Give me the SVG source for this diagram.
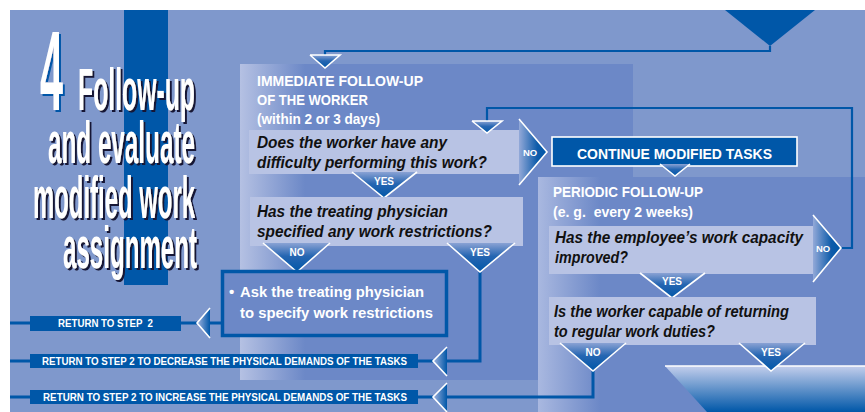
<svg xmlns="http://www.w3.org/2000/svg" width="865" height="412" viewBox="0 0 865 412">
<defs>
  <linearGradient id="p1" gradientUnits="userSpaceOnUse" x1="240" y1="0" x2="305" y2="0">
    <stop offset="0" stop-color="#B5C1E3"/><stop offset="1" stop-color="#6C88C7"/>
  </linearGradient>
  <linearGradient id="p2" gradientUnits="userSpaceOnUse" x1="538" y1="0" x2="600" y2="0">
    <stop offset="0" stop-color="#A9B8E0"/><stop offset="1" stop-color="#6C88C7"/>
  </linearGradient>
  <linearGradient id="gDown" x1="0" y1="0" x2="0" y2="1">
    <stop offset="0" stop-color="#8AA2D4"/><stop offset="0.45" stop-color="#2666B2"/><stop offset="1" stop-color="#0057A8"/>
  </linearGradient>
  <linearGradient id="gRight" x1="0" y1="0" x2="1" y2="0">
    <stop offset="0" stop-color="#93A9D8"/><stop offset="0.65" stop-color="#0E5CAA"/><stop offset="1" stop-color="#0057A8"/>
  </linearGradient>
  <linearGradient id="gLeft" x1="0" y1="0" x2="1" y2="0">
    <stop offset="0" stop-color="#A3B4DF"/><stop offset="1" stop-color="#0057A8"/>
  </linearGradient>
  <linearGradient id="gFunnel" x1="0" y1="0" x2="0" y2="1">
    <stop offset="0" stop-color="#C3CEEC"/><stop offset="1" stop-color="#0057A8"/>
  </linearGradient>
  <filter id="shBlack" x="-10%" y="-10%" width="130%" height="130%">
    <feDropShadow dx="2" dy="2" stdDeviation="0" flood-color="#161634" flood-opacity="1"/>
  </filter>
  <filter id="shBlue" x="-10%" y="-10%" width="140%" height="130%">
    <feDropShadow dx="2" dy="2" stdDeviation="0" flood-color="#0057A8" flood-opacity="1"/>
  </filter>
  <style>
    .hd{font-family:"Liberation Sans",Arial,sans-serif;font-weight:bold;fill:#fff;font-size:15px}
    .q{font-family:"Liberation Sans",Arial,sans-serif;font-weight:bold;font-style:italic;fill:#111;font-size:16.5px}
    .lb{font-family:"Liberation Sans",Arial,sans-serif;font-weight:bold;fill:#fff;font-size:10px}
    .sm{font-family:"Liberation Sans",Arial,sans-serif;font-weight:bold;fill:#fff;font-size:10px;text-anchor:middle}
    .tt{font-family:"Liberation Sans Narrow","Liberation Sans",Arial,sans-serif;font-weight:bold;font-size:60px;fill:#fff}
    .big{font-family:"Liberation Sans Narrow","Liberation Sans",Arial,sans-serif;font-weight:bold;font-size:114px;fill:#fff}
    .box{fill:#B8C3E4}
    .dn{fill:url(#gDown)}
    .ol{fill:none;stroke:#fff;stroke-width:1.6;stroke-linejoin:miter}
    .ln{fill:none;stroke:#0057A8;stroke-width:2.2}
    .ln3{fill:none;stroke:#0057A8;stroke-width:3}
    .bar{fill:#0057A8}
  </style>
</defs>
<rect x="0" y="0" width="865" height="412" fill="#fff"/>
<rect x="10" y="10" width="855" height="402" fill="#7F98CC"/>
<rect x="124" y="10" width="44" height="275" fill="#0057A8"/>
<g id="title">
  <text class="big" x="40" y="110" textLength="23" lengthAdjust="spacingAndGlyphs" filter="url(#shBlue)">4</text>
  <g filter="url(#shBlack)">
    <text class="tt" x="78" y="110" textLength="117" lengthAdjust="spacingAndGlyphs">Follow-up</text>
    <text class="tt" x="48" y="163" textLength="147" lengthAdjust="spacingAndGlyphs">and evaluate</text>
    <text class="tt" x="33" y="218" textLength="162" lengthAdjust="spacingAndGlyphs">modified work</text>
    <text class="tt" x="63" y="268" textLength="134" lengthAdjust="spacingAndGlyphs">assignment</text>
  </g>
</g>
<g id="panel-immediate">
  <rect x="240" y="64" width="393" height="316" fill="url(#p1)"/>
  <text class="hd" x="257" y="86" textLength="166" lengthAdjust="spacingAndGlyphs">IMMEDIATE FOLLOW-UP</text>
  <text class="hd" x="257" y="105" textLength="111" lengthAdjust="spacingAndGlyphs">OF THE WORKER</text>
  <text class="hd" x="257" y="124" textLength="123" lengthAdjust="spacingAndGlyphs">(within 2 or 3 days)</text>
</g>
<g id="panel-periodic">
  <rect x="538" y="177" width="327" height="235" fill="url(#p2)"/>
  <text class="hd" x="553" y="197" textLength="150" lengthAdjust="spacingAndGlyphs">PERIODIC FOLLOW-UP</text>
  <text class="hd" x="553" y="217" textLength="140" lengthAdjust="spacingAndGlyphs" xml:space="preserve">(e. g.  every 2 weeks)</text>
</g>
<g id="connectors">
  <polyline class="ln" points="770,46 770,51 325,51 325,56"/>
  <polyline class="ln" points="841,248 852,248 852,108 487,108 487,122"/>
  <polyline class="ln3" points="297,270 297,272"/>
  <polyline class="ln3" points="480,272 480,361 447,361"/>
  <polyline class="ln3" points="593,371 593,397 447,397"/>
  <polyline class="ln3" points="221,323 210,323"/>
  <polyline class="ln3" points="197,323 181,323"/>
  <polyline class="ln3" points="433,361 418,361"/>
  <polyline class="ln3" points="433,397 418,397"/>
  <polyline class="ln3" points="10,323 30,323"/>
  <polyline class="ln3" points="10,361 30,361"/>
  <polyline class="ln3" points="10,397 30,397"/>
</g>
<g id="top-arrow">
  <polygon points="725,10 815,10 770,46" fill="#0057A8"/>
</g>
<g id="entry-arrow">
  <polygon class="dn" points="310,55 340,55 325,68"/>
  <polyline class="ol" points="310,55 325,68 340,55 310,55"/>
</g>
<g id="q-difficulty">
  <rect class="box" x="249" y="130" width="271" height="44"/>
  <text class="q" x="257" y="148" textLength="190" lengthAdjust="spacingAndGlyphs">Does the worker have any</text>
  <text class="q" x="257" y="168" textLength="230" lengthAdjust="spacingAndGlyphs">difficulty performing this work?</text>
</g>
<g id="loop-arrow">
  <polygon class="dn" points="472,121 502,121 487,133"/>
  <polyline class="ol" points="472,121 487,133 502,121 472,121"/>
</g>
<g id="no-difficulty">
  <polygon points="519,119 547,152 519,185" fill="url(#gRight)"/>
  <polyline class="ol" points="519,119 547,152 519,185"/>
  <text class="sm" x="530" y="156" style="font-size:9.5px">NO</text>
</g>
<g id="yes-difficulty">
  <polygon class="dn" points="352,172 417,172 384,198"/>
  <polyline class="ol" points="352,172 384,198 417,172"/>
  <text class="sm" x="384" y="185">YES</text>
</g>
<g id="q-restrictions">
  <rect class="box" x="250" y="197" width="273" height="49"/>
  <text class="q" x="257" y="217" textLength="191" lengthAdjust="spacingAndGlyphs">Has the treating physician</text>
  <text class="q" x="257" y="237" textLength="235" lengthAdjust="spacingAndGlyphs">specified any work restrictions?</text>
</g>
<g id="no-restrictions">
  <polygon class="dn" points="263,243 330,243 297,272"/>
  <polyline class="ol" points="263,243 297,272 330,243"/>
  <text class="sm" x="297" y="256">NO</text>
</g>
<g id="yes-restrictions">
  <polygon class="dn" points="447,243 515,243 480,272"/>
  <polyline class="ol" points="447,243 480,272 515,243"/>
  <text class="sm" x="480" y="256">YES</text>
</g>
<g id="ask-physician">
  <rect x="222.5" y="271.5" width="224" height="64" fill="#6C88C7" stroke="#0057A8" stroke-width="3.5"/>
  <text class="hd" x="229" y="297">•</text>
  <text class="hd" x="240" y="297" textLength="184" lengthAdjust="spacingAndGlyphs">Ask the treating physician</text>
  <text class="hd" x="240" y="318" textLength="193" lengthAdjust="spacingAndGlyphs">to specify work restrictions</text>
</g>
<g id="continue-tasks">
  <rect x="552" y="137" width="245" height="29" fill="#0057A8" stroke="#fff" stroke-width="1.6"/>
  <text class="hd" x="577" y="159" textLength="195" lengthAdjust="spacingAndGlyphs">CONTINUE MODIFIED TASKS</text>
  <polygon class="dn" points="660,164 690,164 675,176"/>
  <polyline class="ol" points="660,164 675,176 690,164"/>
</g>
<g id="q-capacity">
  <rect class="box" x="549" y="226" width="264" height="48"/>
  <text class="q" x="555" y="243" textLength="248" lengthAdjust="spacingAndGlyphs">Has the employee’s work capacity</text>
  <text class="q" x="555" y="263" textLength="73" lengthAdjust="spacingAndGlyphs">improved?</text>
</g>
<g id="no-capacity">
  <polygon points="813,215 841,248 813,282" fill="url(#gRight)"/>
  <polyline class="ol" points="813,215 841,248 813,282"/>
  <text class="sm" x="823" y="252" style="font-size:9.5px">NO</text>
</g>
<g id="yes-capacity">
  <polygon class="dn" points="640,273 705,273 672,298"/>
  <polyline class="ol" points="640,273 672,298 705,273"/>
  <text class="sm" x="672" y="285">YES</text>
</g>
<g id="q-return">
  <rect class="box" x="549" y="297" width="267" height="48"/>
  <text class="q" x="554" y="317" textLength="235" lengthAdjust="spacingAndGlyphs">Is the worker capable of returning</text>
  <text class="q" x="554" y="337" textLength="161" lengthAdjust="spacingAndGlyphs">to regular work duties?</text>
</g>
<g id="no-return">
  <polygon class="dn" points="560,343 626,343 593,371"/>
  <polyline class="ol" points="560,343 593,371 626,343"/>
  <text class="sm" x="593" y="356">NO</text>
</g>
<g id="funnel">
  <polygon points="665,366 865,366 865,412 707,412" fill="url(#gFunnel)"/>
  <polyline points="665,366 865,366" fill="none" stroke="#fff" stroke-width="1.6"/>
</g>
<g id="yes-return">
  <polygon class="dn" points="739,343 805,343 771,371"/>
  <polyline class="ol" points="739,343 771,371 805,343"/>
  <text class="sm" x="771" y="356">YES</text>
</g>
<g id="return-step2">
  <rect class="bar" x="30" y="316" width="151" height="15"/>
  <text class="lb" x="58" y="327" textLength="95" lengthAdjust="spacingAndGlyphs" xml:space="preserve">RETURN TO STEP  2</text>
  <polygon points="197,323 210,308 210,338" fill="url(#gLeft)"/>
  <polyline class="ol" points="210,308 197,323 210,338"/>
</g>
<g id="return-decrease">
  <rect class="bar" x="30" y="354" width="388" height="14"/>
  <text class="lb" x="42" y="365" textLength="365" lengthAdjust="spacingAndGlyphs">RETURN TO STEP 2 TO DECREASE THE PHYSICAL DEMANDS OF THE TASKS</text>
  <polygon points="433,361 447,347 447,376" fill="url(#gLeft)"/>
  <polyline class="ol" points="447,347 433,361 447,376"/>
</g>
<g id="return-increase">
  <rect class="bar" x="30" y="390" width="388" height="14"/>
  <text class="lb" x="43" y="401" textLength="364" lengthAdjust="spacingAndGlyphs">RETURN TO STEP 2 TO INCREASE THE PHYSICAL DEMANDS OF THE TASKS</text>
  <polygon points="433,397 447,383 447,412" fill="url(#gLeft)"/>
  <polyline class="ol" points="447,383 433,397 447,412"/>
</g>
</svg>
